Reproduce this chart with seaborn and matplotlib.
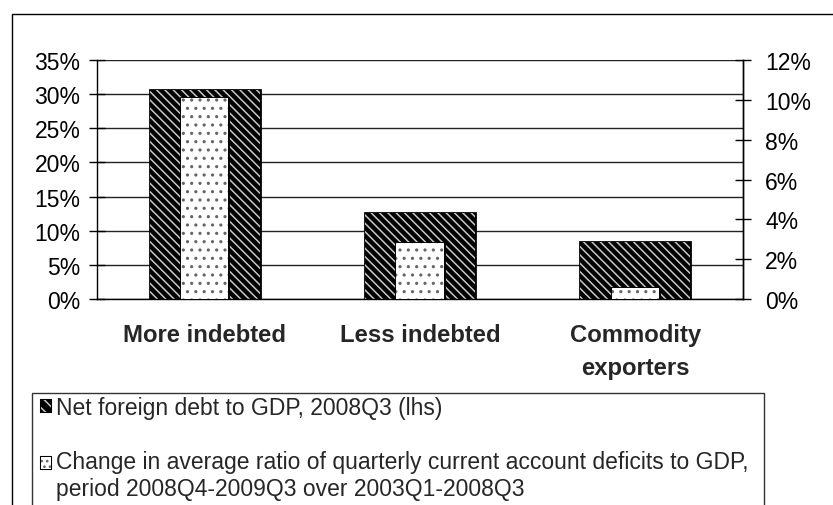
import numpy as np
import pandas as pd
import matplotlib
matplotlib.use("Agg")
import matplotlib.pyplot as plt
import matplotlib.patheffects as pe
from matplotlib.patches import Rectangle, Patch
from matplotlib.legend_handler import HandlerPatch
from matplotlib.ticker import FuncFormatter
import seaborn as sns

categories = ["More indebted", "Less indebted", "Commodity\nexporters"]
net_debt = [30.6, 12.6, 8.35]        # % of GDP, left axis
ca_change = [10.1, 2.8, 0.55]        # percentage points, right axis
debt_label = "Net foreign debt to GDP, 2008Q3 (lhs)"
ca_label = ("Change in average ratio of quarterly current account deficits to GDP,\n"
            "period 2008Q4-2009Q3 over 2003Q1-2008Q3")

sns.set_theme(style="white")
plt.rcParams["font.family"] = ["Liberation Sans", "DejaVu Sans"]
plt.rcParams["hatch.linewidth"] = 1.1

W, H = 833, 506
fig = plt.figure(figsize=(W / 100, H / 100), dpi=100)
fs = 16.5

# outer frame and legend frame
fig.patches.append(Rectangle((12 / W, -0.1), 1.2, (H - 15) / H + 0.1, transform=fig.transFigure,
                             fill=False, edgecolor="black", linewidth=1.0))
fig.patches.append(Rectangle((32 / W, -0.1), (764 - 32) / W, (H - 394) / H + 0.1,
                             transform=fig.transFigure, fill=False, edgecolor="#333333", linewidth=1.0))

ax = fig.add_axes([97 / W, (H - 300) / H, 646 / W, 239 / H])
ax2 = ax.twinx()

df = pd.DataFrame({"group": categories, "debt": net_debt, "ca": ca_change})

sns.barplot(data=df, x="group", y="debt", ax=ax, width=0.51, color="black")
sns.barplot(data=df, x="group", y="ca", ax=ax2, width=0.22, color="white")

outline = [pe.Stroke(linewidth=2.0, foreground="black"), pe.Normal()]
for p in ax.patches:
    p.set_facecolor("black")
    p.set_edgecolor("#c8c8c8")
    p.set_hatch("\\\\\\\\")
    p.set_linewidth(0)
    p.set_path_effects(outline)
for p in ax2.patches:
    p.set_facecolor("white")
    p.set_edgecolor("#666666")
    p.set_hatch("..")
    p.set_linewidth(0)
    p.set_path_effects(outline)

ax.set_ylim(0, 35)
ax2.set_ylim(0, 12)
ax.set_xlim(-0.5, 2.5)
ax.set_yticks(np.arange(0, 36, 5))
ax2.set_yticks(np.arange(0, 13, 2))
pct = FuncFormatter(lambda v, _: f"{v:.0f}%")
ax.yaxis.set_major_formatter(pct)
ax2.yaxis.set_major_formatter(pct)

ax.set_xticks([-0.5, 0.5, 1.5, 2.5])
ax.set_xticklabels(["", "", "", ""])
ax.set_xticks([0, 1, 2], minor=True)
ax.set_xticklabels(categories, minor=True, fontweight="bold", fontsize=17.2, linespacing=1.6)
ax.tick_params(axis="x", which="minor", length=0, pad=17)
ax.tick_params(axis="x", which="major", direction="inout", length=12, width=1, color="black")
ax.tick_params(axis="y", direction="inout", length=12, width=1, color="black",
               labelsize=fs, pad=6, labelcolor="black")
ax2.tick_params(axis="y", direction="inout", length=12, width=1, color="black",
                labelsize=fs, pad=10, labelcolor="black")

ax.set_xlabel("")
ax.set_ylabel("")
ax2.set_ylabel("")
ax.set_axisbelow(True)
ax.yaxis.grid(True, color="#222222", linewidth=1.0)
ax.xaxis.grid(False)
ax2.grid(False)
for a in (ax, ax2):
    a.spines["top"].set_visible(False)
    for s in ("left", "right", "bottom"):
        a.spines[s].set_color("black")
        a.spines[s].set_linewidth(1.0)
ax2.spines["left"].set_visible(False)
ax2.spines["bottom"].set_visible(False)

legend_fs = 16.5


def first_line_patch(legend, orig_handle, xdescent, ydescent, width, height, fontsize):
    # lift the marker up to the first text line
    return Rectangle((-xdescent, -ydescent + 9.3), width, height)


h_debt = Patch(facecolor="black", edgecolor="#c8c8c8", hatch="\\\\\\", linewidth=0,
               path_effects=[pe.Stroke(linewidth=1.5, foreground="black"), pe.Normal()])
h_ca = Patch(facecolor="white", edgecolor="#666666", hatch="...", linewidth=0,
             path_effects=[pe.Stroke(linewidth=1.5, foreground="black"), pe.Normal()])
fig.legend([h_debt, h_ca], [debt_label, ca_label], loc="upper left",
           bbox_to_anchor=(41 / W, (H - 397) / H), frameon=False, fontsize=legend_fs,
           handlelength=0.42, handleheight=0.42, handletextpad=0.25,
           labelspacing=1.35, borderpad=0, borderaxespad=0,
           handler_map={h_ca: HandlerPatch(patch_func=first_line_patch)})

fig.savefig("out.png", dpi=100)
